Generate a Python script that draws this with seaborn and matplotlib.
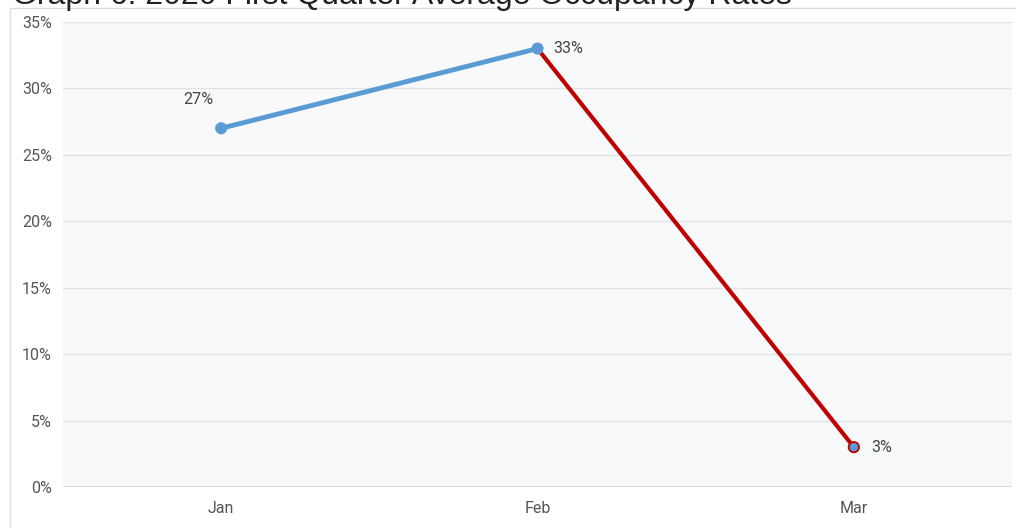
import matplotlib
matplotlib.use("Agg")
import matplotlib.pyplot as plt
from matplotlib.patches import Rectangle
from matplotlib.ticker import FuncFormatter, MultipleLocator
import seaborn as sns
import pandas as pd

# Quarterly occupancy data
months = ["Jan", "Feb", "Mar"]
occupancy = [27, 33, 3]
label_text = ["27%", "33%", "3%"]
title = "Graph 6: 2020 First Quarter Average Occupancy Rates"

blue = "#5b9bd5"
red = "#c00000"

sns.set_theme(style="white")
plt.rcParams["font.family"] = ["Roboto", "DejaVu Sans"]

df = pd.DataFrame({"pos": range(len(months)), "month": months, "rate": occupancy})

fig = plt.figure(figsize=(10.16, 5.28), dpi=100)
fig.patch.set_facecolor("white")

# framing box around the chart panel
W, H = 1016, 528
fig.patches.append(Rectangle((10 / W, -0.1), 1.2, 1 - 8 / H + 0.1,
                             transform=fig.transFigure, fill=False,
                             edgecolor="#dcdcdc", linewidth=1.0, zorder=0))

fig.text(12 / W, 1 - 4 / H, title, fontsize=23, color="#222222",
         family=["Liberation Sans", "DejaVu Sans"], va="baseline", ha="left")

ax = fig.add_axes([63 / W, 41 / H, (1012 - 63) / W, (487 - 22) / H])
ax.set_facecolor("#f7f9fa")

# rising segment (Jan -> Feb) and falling segment (Feb -> Mar)
sns.lineplot(data=df.iloc[0:2], x="pos", y="rate", ax=ax, color=blue,
             linewidth=3.5, zorder=3)
sns.lineplot(data=df.iloc[1:3], x="pos", y="rate", ax=ax, color=red,
             linewidth=3.0, zorder=3)

edge_colors = [blue, blue, red]
sns.scatterplot(data=df, x="pos", y="rate", ax=ax, color=blue, s=55,
                edgecolor=edge_colors, linewidth=1.3, zorder=4)

offsets = [(-23, 29), (31, 0), (28, 0)]
for i, (x, y) in enumerate(zip(df["pos"], df["rate"])):
    ax.annotate(label_text[i], (x, y), xytext=offsets[i],
                textcoords="offset pixels", ha="center", va="center",
                fontsize=11.5, color="#444444")

ax.set_xlim(-0.5, 2.5)
ax.set_ylim(0, 35)
ax.yaxis.set_major_locator(MultipleLocator(5))
ax.yaxis.set_major_formatter(FuncFormatter(lambda v, _: f"{v:.0f}%"))
ax.set_xticks(df["pos"])
ax.set_xticklabels(months)
ax.set_xlabel("")
ax.set_ylabel("")
ax.grid(axis="y", color="#e0e2e4", linewidth=1.0)
ax.axhline(0, color="#d4d6d8", linewidth=1.2, zorder=1)
ax.set_axisbelow(True)
for s in ax.spines.values():
    s.set_visible(False)
ax.tick_params(axis="both", length=0, labelsize=11.5, labelcolor="#555555")
ax.tick_params(axis="y", pad=8)
ax.tick_params(axis="x", pad=10)

fig.savefig("out.png", dpi=100)
